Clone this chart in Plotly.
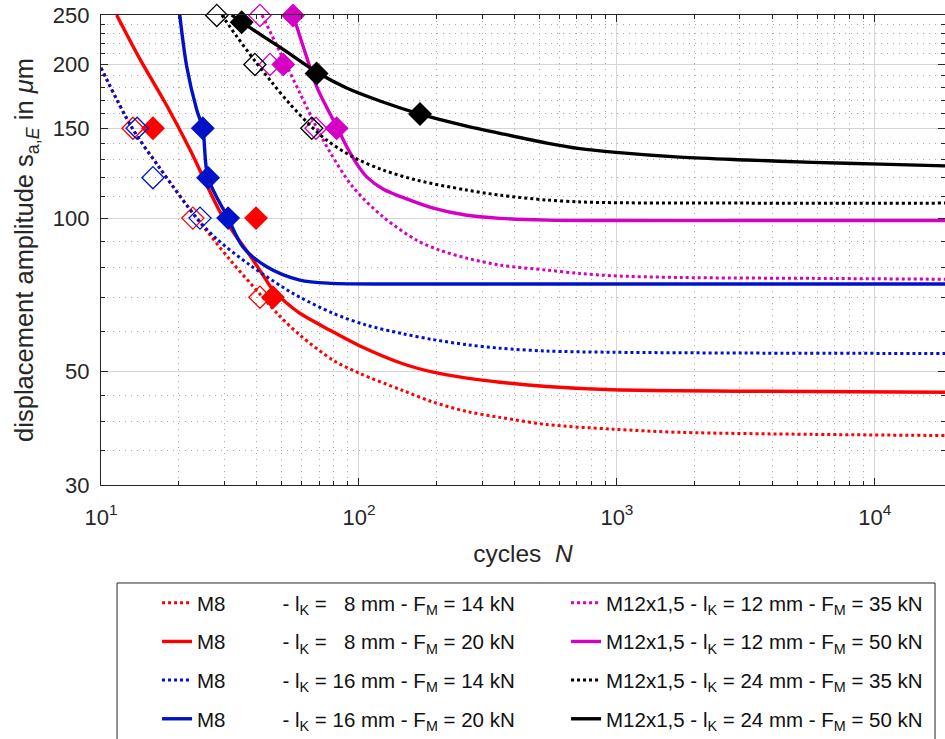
import math
import plotly.graph_objects as go

# ---------------- data ----------------
# M8, lK = 8 mm, FM = 14 kN  (red, dotted, open markers)
rd_x = [10, 13.15, 16.9, 23.5, 31.6, 41.3, 49.4, 59, 79.3, 100, 147, 194, 262, 352, 535, 965, 1754, 5750, 18700]
rd_y = [197, 150.7, 125.3, 100, 82.9, 71.0, 64.2, 59.0, 52.7, 49.7, 46.0, 43.6, 41.8, 40.7, 39.4, 38.6, 38.05, 37.7, 37.5]
rd_mx = [13.3, 22.7, 41.3]
rd_my = [150, 100, 70]

# M8, lK = 8 mm, FM = 20 kN  (red, solid, filled markers)
rs_x = [11.5, 14, 18, 22, 28.9, 33, 37.8, 42, 46.4, 52.6, 59, 77.2, 100, 147, 194, 262, 352, 535, 965, 3190, 18700]
rs_y = [250, 207, 166, 137, 103, 93, 84.5, 78, 72.3, 68.1, 65.1, 60.3, 56.3, 51.9, 49.9, 48.6, 47.7, 46.8, 46.1, 45.8, 45.6]
rs_mx = [15.9, 39.9, 46.4]
rs_my = [150, 100, 70]

# M8, lK = 16 mm, FM = 14 kN  (blue, dotted, open markers)
bd_x = [10, 13.15, 16.9, 23.5, 28.1, 37.8, 50.7, 59, 79.3, 107, 147, 194, 262, 352, 535, 965, 3190, 18700]
bd_y = [197, 150.7, 125.3, 100, 91.0, 80.9, 73.2, 70.0, 65.1, 61.7, 59.4, 57.8, 56.5, 55.6, 54.9, 54.6, 54.4, 54.3]
bd_mx = [13.8, 15.9, 24.2]
bd_my = [150, 120, 100]

# M8, lK = 16 mm, FM = 20 kN  (blue, solid, filled markers)
bs_x = [20.2, 21.5, 23.5, 24.8, 26.0, 31.1, 35.5, 43.9, 59, 79.3, 147, 352, 1000, 18700]
bs_y = [250, 198, 163, 150, 120, 100, 87.8, 80.3, 75.6, 74.5, 74.3, 74.3, 74.3, 74.3]
bs_mx = [24.8, 26.0, 31.1]
bs_my = [150, 120, 100]

# M12x1,5, lK = 12 mm, FM = 35 kN  (magenta, dotted, open markers)
md_x = [42.1, 49.4, 59, 68.7, 77.2, 94.8, 123.9, 167.4, 206, 261.5, 352, 535, 719, 965, 1754, 5750, 18700]
md_y = [250, 211.6, 175.9, 150.1, 134.7, 115.0, 100.6, 90.5, 86.5, 83.5, 80.9, 79.1, 77.9, 77.1, 76.5, 76.2, 75.9]
md_mx = [41.3, 45.2, 68.1]
md_my = [249.5, 200, 150]

# M12x1,5, lK = 12 mm, FM = 50 kN  (magenta, solid, filled markers)
ms_x = [55.5, 60.7, 68.7, 75.2, 82.2, 89.8, 98.2, 107.4, 123.9, 147, 194, 262, 352, 535, 965, 3190, 18700]
ms_y = [250, 217.4, 180.6, 164.3, 150.8, 137.8, 127.6, 120.3, 114.0, 109.9, 104.6, 101.3, 99.9, 99.1, 98.9, 98.9, 98.9]
ms_mx = [55.5, 50.9, 81.9]
ms_my = [249.5, 200, 150]

# M12x1,5, lK = 24 mm, FM = 35 kN  (black, dotted, open markers)
kd_x = [29.4, 33.6, 39.5, 46.0, 54.0, 65.7, 74.9, 95, 124.2, 167.4, 261.5, 352, 535, 719, 965, 3190, 18700]
kd_y = [250, 226.9, 203.2, 184.4, 167.3, 150.8, 142.2, 131.7, 124.2, 118.7, 113.5, 110.9, 108.5, 107.6, 107.2, 107.0, 107.0]
kd_mx = [28.1, 39.5, 65.6]
kd_my = [249.5, 200, 150]

# M12x1,5, lK = 24 mm, FM = 50 kN  (black, solid, filled markers)
ks_x = [32.1, 35.1, 49.4, 68.5, 89.6, 120.6, 172.4, 261.5, 352, 535, 719, 965, 1754, 3190, 5750, 10450, 18700]
ks_y = [250, 242, 216.2, 193.3, 179.8, 169.6, 159.9, 151.5, 146.6, 140.3, 136.8, 134.7, 131.7, 130.0, 128.6, 127.6, 126.6]
ks_mx = [35.1, 68.5, 172.4]
ks_my = [242, 192, 160]

x_range = [10, 18700]
y_range = [30, 250]
x_tickvals = [10, 100, 1000, 10000]
x_ticktext = ['10<sup>1</sup>', '10<sup>2</sup>', '10<sup>3</sup>', '10<sup>4</sup>']
x_minor = [20, 30, 40, 50, 60, 70, 80, 90, 200, 300, 400, 500, 600, 700, 800, 900,
           2000, 3000, 4000, 5000, 6000, 7000, 8000, 9000]
y_tickvals = [30, 50, 100, 150, 200, 250]
y_ticktext = ['30', '50', '100', '150', '200', '250']
y_minor = [35, 40, 45, 60, 70, 80, 90, 110, 120, 130, 140, 160, 170, 180, 190, 210, 220, 230, 240]

RED = 'rgb(255,0,0)'
BLUE = 'rgb(0,18,200)'
MAG = 'rgb(214,0,196)'
BLK = 'rgb(0,0,0)'

NB = '\u00a0'
def lab_m8(lk, fm):
    return ('M8' + NB * 10 + '-' + NB + 'l<sub>K</sub>' + NB + '=' + NB + lk + NB + 'mm'
            + NB + '-' + NB + 'F<sub>M</sub>' + NB + '=' + NB + fm + NB + 'kN')

def lab_m12(lk, fm):
    return ('M12x1,5' + NB + '-' + NB + 'l<sub>K</sub>' + NB + '=' + NB + lk + NB + 'mm'
            + NB + '-' + NB + 'F<sub>M</sub>' + NB + '=' + NB + fm + NB + 'kN')

series = [
    # name, x, y, mx, my, color, dotted, legend
    (lab_m8(NB * 2 + '8', '14'), rd_x, rd_y, rd_mx, rd_my, RED, True, 'legend'),
    (lab_m8(NB * 2 + '8', '20'), rs_x, rs_y, rs_mx, rs_my, RED, False, 'legend'),
    (lab_m8('16', '14'), bd_x, bd_y, bd_mx, bd_my, BLUE, True, 'legend'),
    (lab_m8('16', '20'), bs_x, bs_y, bs_mx, bs_my, BLUE, False, 'legend'),
    (lab_m12('12', '35'), md_x, md_y, md_mx, md_my, MAG, True, 'legend2'),
    (lab_m12('12', '50'), ms_x, ms_y, ms_mx, ms_my, MAG, False, 'legend2'),
    (lab_m12('24', '35'), kd_x, kd_y, kd_mx, kd_my, BLK, True, 'legend2'),
    (lab_m12('24', '50'), ks_x, ks_y, ks_mx, ks_my, BLK, False, 'legend2'),
]

fig = go.Figure()
for i, (name, x, y, mx, my, col, dotted, leg) in enumerate(series):
    fig.add_trace(go.Scatter(
        x=x, y=y, mode='lines', name=name, legend=leg, legendgroup='g%d' % i,
        line=dict(color=col, width=3 if dotted else 3.4, dash='3px,3px' if dotted else 'solid',
                  shape='spline', smoothing=0.9),
        hoverinfo='skip'))
    fig.add_trace(go.Scatter(
        x=mx, y=my, mode='markers', showlegend=False, legendgroup='g%d' % i,
        marker=dict(symbol='diamond-open' if dotted else 'diamond', size=17, color=col,
                    line=dict(color=col, width=1.3)),
        cliponaxis=False, hoverinfo='skip'))

FONT = 'Liberation Sans, Arial, Helvetica, sans-serif'
AX = '#262626'

leg_common = dict(orientation='v', xanchor='left', y=-0.2085, yanchor='top',
                  borderwidth=0, bgcolor='rgba(255,255,255,0)',
                  font=dict(size=20.5, color='#111111', family=FONT),
                  traceorder='grouped', tracegroupgap=9)

fig.update_layout(
    width=945, height=739,
    margin=dict(l=101, r=0, t=15, b=254, autoexpand=False),
    paper_bgcolor='white', plot_bgcolor='white',
    font=dict(family=FONT, color=AX, size=20),
    showlegend=True,
    legend=dict(x=0.0664, **leg_common),
    legend2=dict(x=0.551, **leg_common),
    shapes=[dict(type='rect', xref='paper', yref='paper',
                 x0=0.019, x1=0.9882, y0=-0.2085, y1=-0.60,
                 line=dict(color=AX, width=1), fillcolor='rgba(0,0,0,0)', layer='below')],
    xaxis=dict(type='log', range=[math.log10(v) for v in x_range], tickvals=x_tickvals, ticktext=x_ticktext,
               ticks='inside', ticklen=7, tickwidth=1, tickcolor=AX,
               showline=True, linecolor=AX, linewidth=1.3, mirror='ticks',
               showgrid=True, gridcolor='#d6d6d6', gridwidth=1, zeroline=False,
               tickfont=dict(size=22, color=AX, family=FONT), ticklabelstandoff=12,
               ticklabeloverflow='allow',
               title=dict(text='cycles' + NB + NB + '<i>N</i>', font=dict(size=24.5, color=AX, family=FONT),
                          standoff=16),
               minor=dict(tickvals=x_minor, ticks='inside', ticklen=4, tickcolor=AX,
                          showgrid=True, gridcolor='#a8a8a8', gridwidth=1, griddash='1px,5px')),
    yaxis=dict(type='log', range=[math.log10(v) for v in y_range], tickvals=y_tickvals, ticktext=y_ticktext,
               ticks='inside', ticklen=7, tickwidth=1, tickcolor=AX,
               showline=True, linecolor=AX, linewidth=1.3, mirror='ticks',
               showgrid=True, gridcolor='#d6d6d6', gridwidth=1, zeroline=False,
               tickfont=dict(size=22, color=AX, family=FONT), ticklabelstandoff=6,
               ticklabeloverflow='allow',
               title=dict(text='displacement amplitude s<sub>a,<i>E</i></sub> in <i>μ</i>m',
                          font=dict(size=25.5, color=AX, family=FONT), standoff=11),
               minor=dict(tickvals=y_minor, ticks='inside', ticklen=4, tickcolor=AX,
                          showgrid=True, gridcolor='#a8a8a8', gridwidth=1, griddash='1px,5px')),
)

# remove the page's default 8 px body margin so the figure fills the window exactly
fig.write_html('out.html', config={'displayModeBar': False},
               post_script="document.body.style.margin='0px';")
